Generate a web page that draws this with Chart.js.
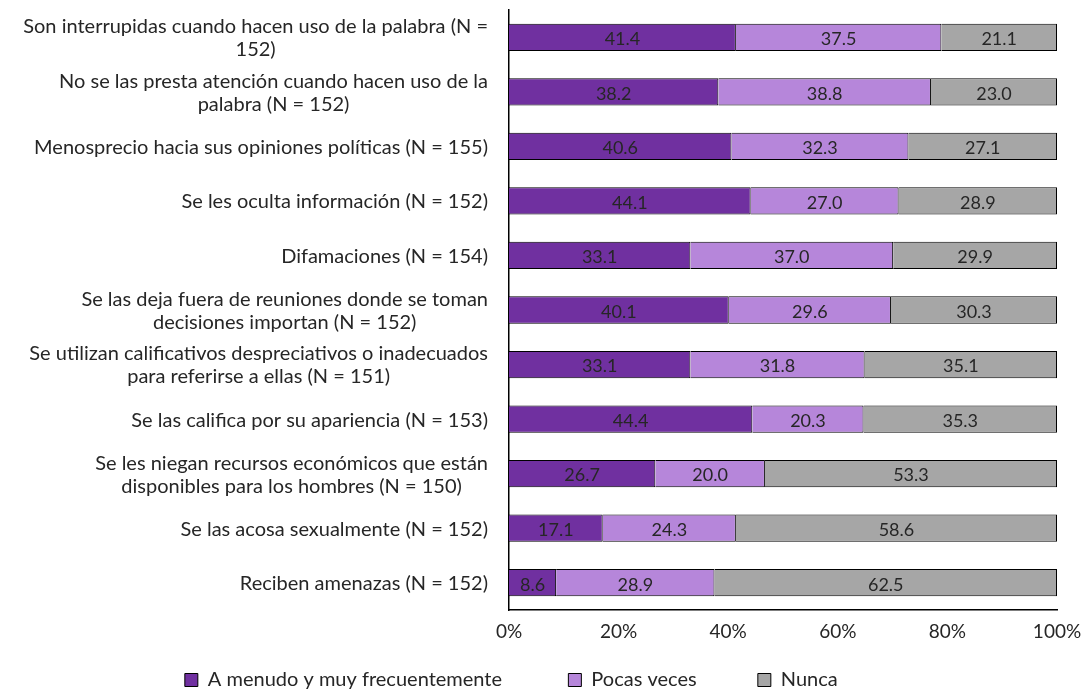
<!DOCTYPE html>
<html>
<head>
<meta charset="utf-8">
<script src="https://cdn.jsdelivr.net/npm/chart.js@4"></script>
<style>
html, body { margin: 0; padding: 0; background: #fff; }
#wrap { width: 1084px; height: 692px; }
</style>
</head>
<body>
<div id="wrap"><canvas id="myChart" width="1084" height="692"></canvas></div>
<script>
var categories = [
    ['Son interrupidas cuando hacen uso de la palabra (N =', '152)'],
    ['No se las presta atención cuando hacen uso de la', 'palabra (N = 152)'],
    ['Menosprecio hacia sus opiniones políticas (N = 155)'],
    ['Se les oculta información (N = 152)'],
    ['Difamaciones (N = 154)'],
    ['Se las deja fuera de reuniones donde se toman', 'decisiones importan (N = 152)'],
    ['Se utilizan calificativos despreciativos o inadecuados', 'para referirse a ellas (N = 151)'],
    ['Se las califica por su apariencia (N = 153)'],
    ['Se les niegan recursos económicos que están', 'disponibles para los hombres (N = 150)'],
    ['Se las acosa sexualmente (N = 152)'],
    ['Reciben amenazas (N = 152)']
];
var seriesNames = ['A menudo y muy frecuentemente', 'Pocas veces', 'Nunca'];
var often = [41.4, 38.2, 40.6, 44.1, 33.1, 40.1, 33.1, 44.4, 26.7, 17.1, 8.6];
var sometimes = [37.5, 38.8, 32.3, 27.0, 37.0, 29.6, 31.8, 20.3, 20.0, 24.3, 28.9];
var never = [21.1, 23.0, 27.1, 28.9, 29.9, 30.3, 35.1, 35.3, 53.3, 58.6, 62.5];
var xTicks = [0, 20, 40, 60, 80, 100];

var colors = ['#7030A0', '#B686DA', '#A6A6A6'];
var fontFam = 'Lato, "Open Sans", sans-serif';
var textColor = '#262626';
// legend: distance from one box to the next, and total line width
var legendSteps = [382, 187];
var legendTotal = 718;

// value in the middle of each bar
var barLabels = {
    id: 'barLabels',
    afterDatasetsDraw(chart) {
        const ctx = chart.ctx;
        ctx.save();
        ctx.font = '18px ' + fontFam;
        ctx.fillStyle = textColor;
        ctx.textAlign = 'center';
        ctx.textBaseline = 'middle';
        chart.data.datasets.forEach(function(ds, i) {
            chart.getDatasetMeta(i).data.forEach(function(bar, j) {
                const x = (bar.x + bar.base) / 2;
                ctx.fillText(ds.data[j].toFixed(1), x, bar.y + 2);
            });
        });
        ctx.restore();
    }
};

// category labels: block right aligned, lines centred inside the block
var catLabels = {
    id: 'catLabels',
    afterDraw(chart) {
        const ctx = chart.ctx;
        const yScale = chart.scales.y;
        const right = yScale.right - 21;
        const lh = 23;
        ctx.save();
        ctx.font = '20px ' + fontFam;
        ctx.fillStyle = textColor;
        ctx.textAlign = 'center';
        ctx.textBaseline = 'middle';
        chart.data.labels.forEach(function(lines, i) {
            const y = yScale.getPixelForTick(i) + 1;
            let w = 0;
            lines.forEach(function(t) { w = Math.max(w, ctx.measureText(t).width); });
            const cx = right - w / 2;
            lines.forEach(function(t, k) {
                ctx.fillText(t, cx, y + (k - (lines.length - 1) / 2) * lh);
            });
        });
        ctx.restore();
    }
};

function legendItems(chart) {
    var items = Chart.defaults.plugins.legend.labels.generateLabels(chart);
    var ctx = chart.ctx;
    ctx.save();
    ctx.font = 'normal 20px ' + fontFam;
    var sp = ctx.measureText('          ').width / 10;
    var used = 0;
    items.forEach(function(it, i) {
        var w = ctx.measureText(it.text).width;
        var step = i < legendSteps.length ? legendSteps[i] : legendTotal - used;
        var extra = step - 10 - 23 - w;
        var n = Math.max(0, Math.round(extra / sp));
        it.text = it.text + ' '.repeat(n);
        used += step;
    });
    ctx.restore();
    return items;
}

new Chart(document.getElementById('myChart'), {
    type: 'bar',
    data: {
        labels: categories,
        datasets: [
            { label: seriesNames[0], data: often, backgroundColor: colors[0], borderColor: '#000', borderWidth: 1 },
            { label: seriesNames[1], data: sometimes, backgroundColor: colors[1], borderColor: '#000', borderWidth: 1 },
            { label: seriesNames[2], data: never, backgroundColor: colors[2], borderColor: '#000', borderWidth: 1 }
        ]
    },
    options: {
        indexAxis: 'y',
        responsive: false,
        animation: false,
        barPercentage: 1,
        categoryPercentage: 0.5,
        layout: { padding: { left: 0, right: 0, top: 10, bottom: -8 } },
        plugins: {
            legend: {
                position: 'bottom',
                labels: {
                    boxWidth: 13,
                    boxHeight: 13,
                    padding: 10,
                    color: textColor,
                    font: { family: fontFam, size: 20 },
                    generateLabels: legendItems
                }
            },
            tooltip: { enabled: false }
        },
        scales: {
            x: {
                stacked: true,
                min: 0,
                max: 100,
                afterBuildTicks: function(scale) {
                    scale.ticks = xTicks.map(function(v) { return { value: v }; });
                },
                ticks: {
                    callback: function(v) { return v + '%'; },
                    color: textColor,
                    padding: 10,
                    maxRotation: 0,
                    font: { family: fontFam, size: 19 }
                },
                grid: { display: false, drawTicks: false },
                border: { color: '#000', width: 1.5 },
                afterFit: function(scale) {
                    scale.height = 50;
                    scale.paddingLeft = 0;
                    scale.paddingRight = 27;
                }
            },
            y: {
                stacked: true,
                ticks: { display: false },
                grid: { display: false, drawTicks: false },
                border: { color: '#000', width: 1.5 },
                afterFit: function(scale) { scale.width = 509; }
            }
        }
    },
    plugins: [barLabels, catLabels]
});
</script>
</body>
</html>
